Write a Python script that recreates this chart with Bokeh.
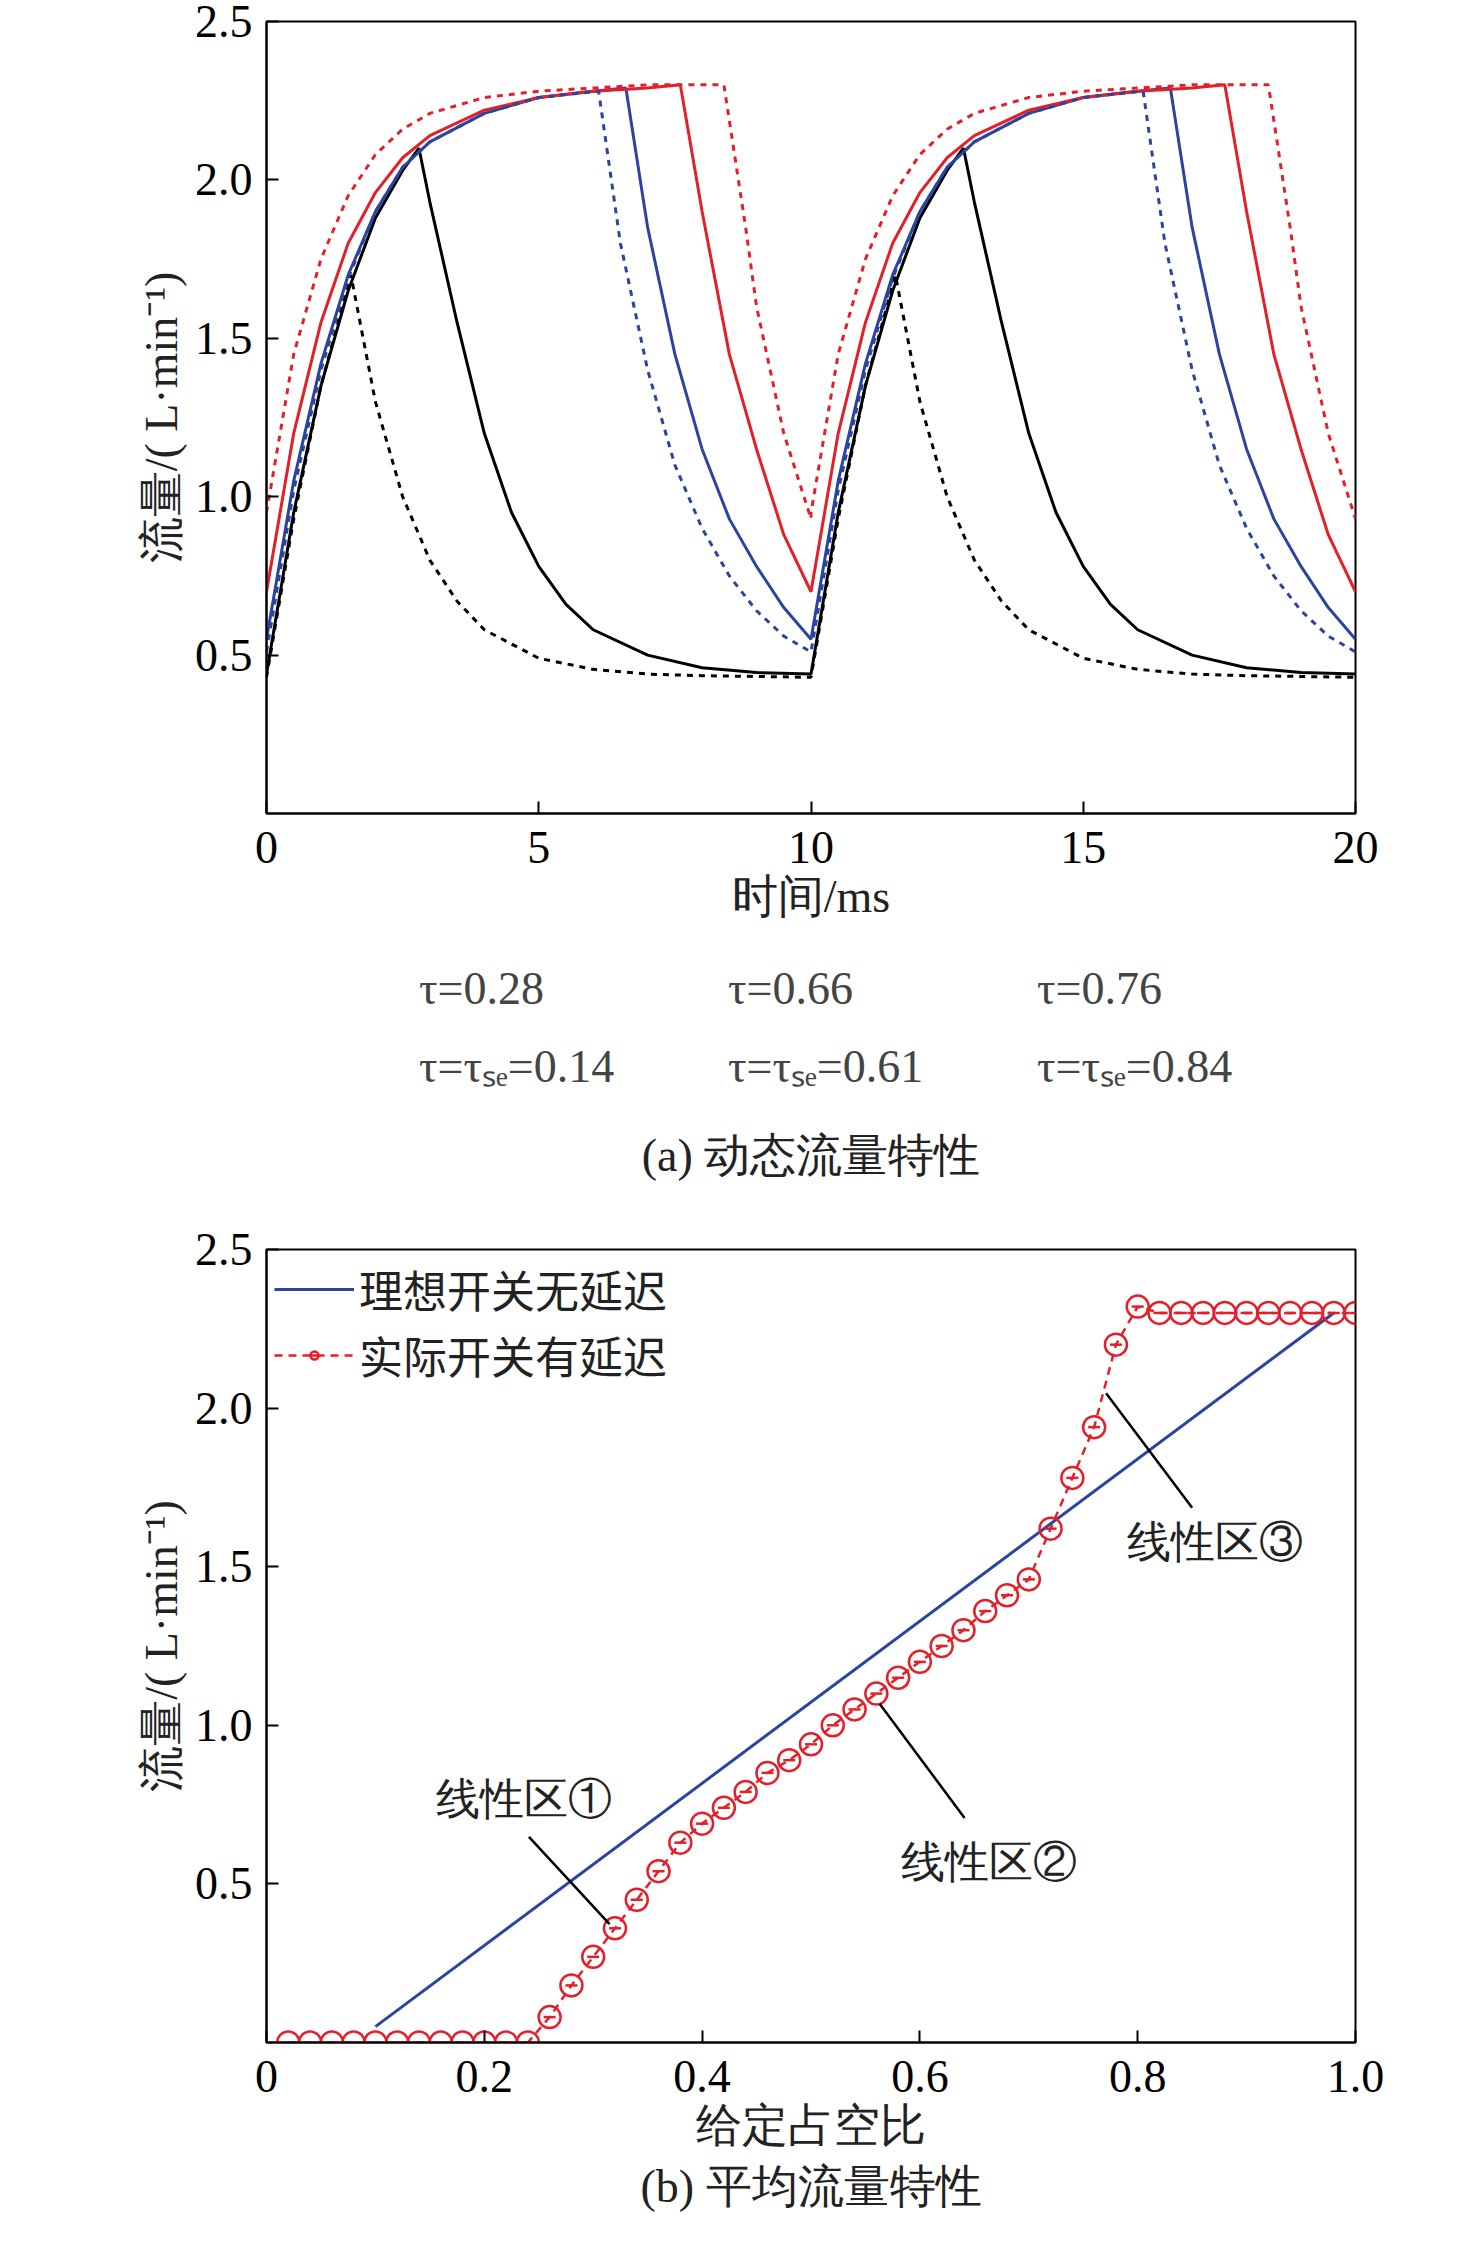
from bokeh.plotting import figure
from bokeh.models import Legend, LegendItem, Title, FixedTicker, Range1d, ColumnDataSource
from bokeh.layouts import column
from bokeh.embed import file_html
from bokeh.resources import INLINE

SERIF = "Liberation Serif"
# ---------- data (a): one period, repeated for the second 10 ms ----------
PERIOD = 10.0
black_t = [0, 0.5, 1, 1.5, 2, 2.5, 2.8, 3.0, 3.5, 4, 4.5, 5, 5.5, 6, 7, 8, 9, 10]
black_q = [0.44, 0.95, 1.35, 1.65, 1.88, 2.03, 2.1, 1.93, 1.55, 1.2, 0.95, 0.78, 0.66, 0.58, 0.5, 0.46, 0.445, 0.44]
blackd_t = [0, 0.5, 1, 1.55, 2, 2.5, 3, 3.5, 4, 5, 6, 7, 8, 10]
blackd_q = [0.43, 0.93, 1.35, 1.7, 1.3, 1.0, 0.8, 0.67, 0.58, 0.49, 0.455, 0.44, 0.435, 0.43]
blue_t = [0, 0.5, 1, 1.5, 2, 2.5, 3, 4, 5, 6, 6.6, 7, 7.5, 8, 8.5, 9, 9.5, 10]
blue_q = [0.55, 1.05, 1.42, 1.7, 1.9, 2.04, 2.12, 2.21, 2.26, 2.28, 2.29, 1.85, 1.45, 1.15, 0.93, 0.78, 0.65, 0.55]
blued_t = [0, 0.5, 1, 1.5, 2, 2.5, 3, 4, 5, 6.1, 6.5, 7, 7.5, 8, 8.5, 9, 9.5, 10]
blued_q = [0.51, 1.02, 1.4, 1.69, 1.9, 2.04, 2.12, 2.21, 2.26, 2.28, 1.8, 1.4, 1.1, 0.9, 0.75, 0.64, 0.56, 0.51]
red_t = [0, 0.5, 1, 1.5, 2, 2.5, 3, 4, 5, 6, 7, 7.6, 8, 8.5, 9, 9.5, 10]
red_q = [0.7, 1.2, 1.55, 1.8, 1.96, 2.07, 2.14, 2.22, 2.26, 2.28, 2.29, 2.3, 1.9, 1.45, 1.15, 0.88, 0.7]
redd_t = [0, 0.5, 1, 1.5, 2, 2.5, 3, 4, 5, 6, 7, 8.4, 8.8, 9, 9.5, 10]
redd_q = [0.95, 1.45, 1.75, 1.95, 2.08, 2.16, 2.21, 2.26, 2.28, 2.29, 2.3, 2.3, 1.85, 1.6, 1.2, 0.93]

legend_a = ["τ=0.28", "τ=0.66", "τ=0.76", "τ=τₛₑ=0.14", "τ=τₛₑ=0.61", "τ=τₛₑ=0.84"]

# ---------- data (b) ----------
ideal_x = [0.1, 0.98]
ideal_y = [0.05, 2.3]
duty = [round(0.02 * i, 2) for i in range(1, 51)]
flow = [0.0] * 12 + [0.08, 0.18, 0.27, 0.36, 0.45, 0.54, 0.63, 0.69, 0.74, 0.79, 0.85, 0.89,
                     0.94, 1.0, 1.05, 1.1, 1.15, 1.2, 1.25, 1.3, 1.36, 1.41, 1.46, 1.62, 1.78,
                     1.94, 2.2, 2.32] + [2.3] * 10
legend_b = ["理想开关无延迟", "实际开关有延迟"]


def style(p, yticks, xticks, xlabel, overrides_x):
    p.outline_line_color = "black"
    p.outline_line_width = 2
    p.xgrid.visible = False
    p.ygrid.visible = False
    for ax in (p.xaxis[0], p.yaxis[0]):
        ax.major_tick_in = 12
        ax.major_tick_out = 0
        ax.minor_tick_line_color = None
        ax.axis_line_width = 2
        ax.major_tick_line_width = 2
        ax.major_label_text_font = SERIF
        ax.major_label_text_font_size = "46px"
        ax.major_label_text_color = "black"
        ax.axis_label_text_font = SERIF
        ax.axis_label_text_font_size = "46px"
        ax.axis_label_text_font_style = "normal"
        ax.axis_label_text_color = "#222222"
    p.yaxis.ticker = FixedTicker(ticks=yticks)
    p.yaxis.major_label_overrides = {0.5: "0.5", 1.0: "1.0", 1.5: "1.5", 2.0: "2.0", 2.5: "2.5"}
    p.xaxis.ticker = FixedTicker(ticks=xticks)
    p.xaxis.major_label_overrides = overrides_x
    p.xaxis.major_label_standoff = 18
    p.yaxis.major_label_standoff = 14
    p.yaxis.axis_label = "流量/( L·min⁻¹)"
    p.xaxis.axis_label = xlabel


# ---------- figure (a) ----------
pa = figure(width=1440, height=957, output_backend="svg", toolbar_location=None,
            x_range=Range1d(0, 20), y_range=Range1d(0, 2.5),
            min_border_left=266, min_border_right=85, min_border_top=21, min_border_bottom=144)
style(pa, [0.5, 1.0, 1.5, 2.0, 2.5], [0, 5, 10, 15, 20], "时间/ms", {0: "0"})

# legend / caption panel for (a)
pl = figure(width=1440, height=228, output_backend="svg", toolbar_location=None,
            x_range=Range1d(0, 1), y_range=Range1d(0, 1),
            min_border_left=0, min_border_right=0, min_border_top=0, min_border_bottom=0)
pl.axis.visible = False
pl.grid.visible = False
pl.outline_line_color = None

series = [(black_t, black_q, "black", "solid"), (blue_t, blue_q, "#2b44a0", "solid"),
          (red_t, red_q, "#e3202a", "solid"), (blackd_t, blackd_q, "black", "6 6"),
          (blued_t, blued_q, "#2b44a0", "6 6"), (redd_t, redd_q, "#e3202a", "6 6")]
items = []
for (t, q, c, d), lab in zip(series, legend_a):
    xs = list(t) + [v + PERIOD for v in t]
    ys = list(q) + list(q)
    pa.line(xs, ys, line_color=c, line_width=3, line_dash=d)
    r = pl.line([], [], line_color=c, line_width=3, line_dash=d)
    items.append(LegendItem(label=lab, renderers=[r]))
leg = Legend(items=items, orientation="horizontal", ncols=3, location="top_center",
             label_text_font=SERIF, label_text_font_size="46px", glyph_width=60,
             label_width=230, label_height=62, spacing=14, border_line_color=None,
             background_fill_alpha=0, padding=0, margin=0)
pl.add_layout(leg)
pl.add_layout(Title(text="(a) 动态流量特性", align="center", text_font=SERIF,
                    text_font_size="46px", text_font_style="normal", text_color="#222222"), "below")

# ---------- figure (b) ----------
pb = figure(width=1440, height=1049, output_backend="svg", toolbar_location=None,
            x_range=Range1d(0, 1), y_range=Range1d(0, 2.5),
            min_border_left=266, min_border_right=85, min_border_top=64, min_border_bottom=192)
style(pb, [0.5, 1.0, 1.5, 2.0, 2.5], [0, 0.2, 0.4, 0.6, 0.8, 1.0], "给定占空比",
      {0: "0", 0.2: "0.2", 0.4: "0.4", 0.6: "0.6", 0.8: "0.8", 1.0: "1.0"})
r1 = pb.line(ideal_x, ideal_y, line_color="#2b44a0", line_width=3)
src = ColumnDataSource(dict(x=duty, y=flow))
r2l = pb.line("x", "y", source=src, line_color="#e3202a", line_width=2.5, line_dash="8 6")
r2c = pb.scatter("x", "y", source=src, marker="circle", size=22, fill_color=None,
                 line_color="#e3202a", line_width=2.5)
r2d = pb.scatter("x", "y", source=src, marker="dash", size=12, line_color="#e3202a", line_width=2.5)
legb = Legend(items=[LegendItem(label=legend_b[0], renderers=[r1]),
                     LegendItem(label=legend_b[1], renderers=[r2l, r2c, r2d])],
              location="top_left", label_text_font="Noto Sans CJK SC", label_text_font_size="44px",
              glyph_width=80, border_line_color=None, background_fill_alpha=0, spacing=2, margin=8,
              padding=5, label_text_color="#222222")
pb.add_layout(legb)

# annotation leader lines and labels
ann_x0 = [0.241, 0.563, 0.771]
ann_y0 = [0.648, 1.068, 2.047]
ann_x1 = [0.315, 0.641, 0.85]
ann_y1 = [0.373, 0.708, 1.686]
ann_tx = [0.236, 0.663, 0.871]
ann_ty = [0.77, 0.57, 1.58]
ann_text = ["线性区①", "线性区②", "线性区③"]
pb.segment(ann_x0, ann_y0, ann_x1, ann_y1, line_color="black", line_width=2.5)
pb.text(ann_tx, ann_ty, text=ann_text, text_align="center", text_baseline="middle",
        text_font_size="44px", text_color="#222222")
pb.add_layout(Title(text="(b) 平均流量特性", align="center", text_font=SERIF,
                    text_font_size="46px", text_font_style="normal", text_color="#222222"), "below")

open("out.html", "w").write(file_html(column(pa, pl, pb, spacing=0), INLINE))
